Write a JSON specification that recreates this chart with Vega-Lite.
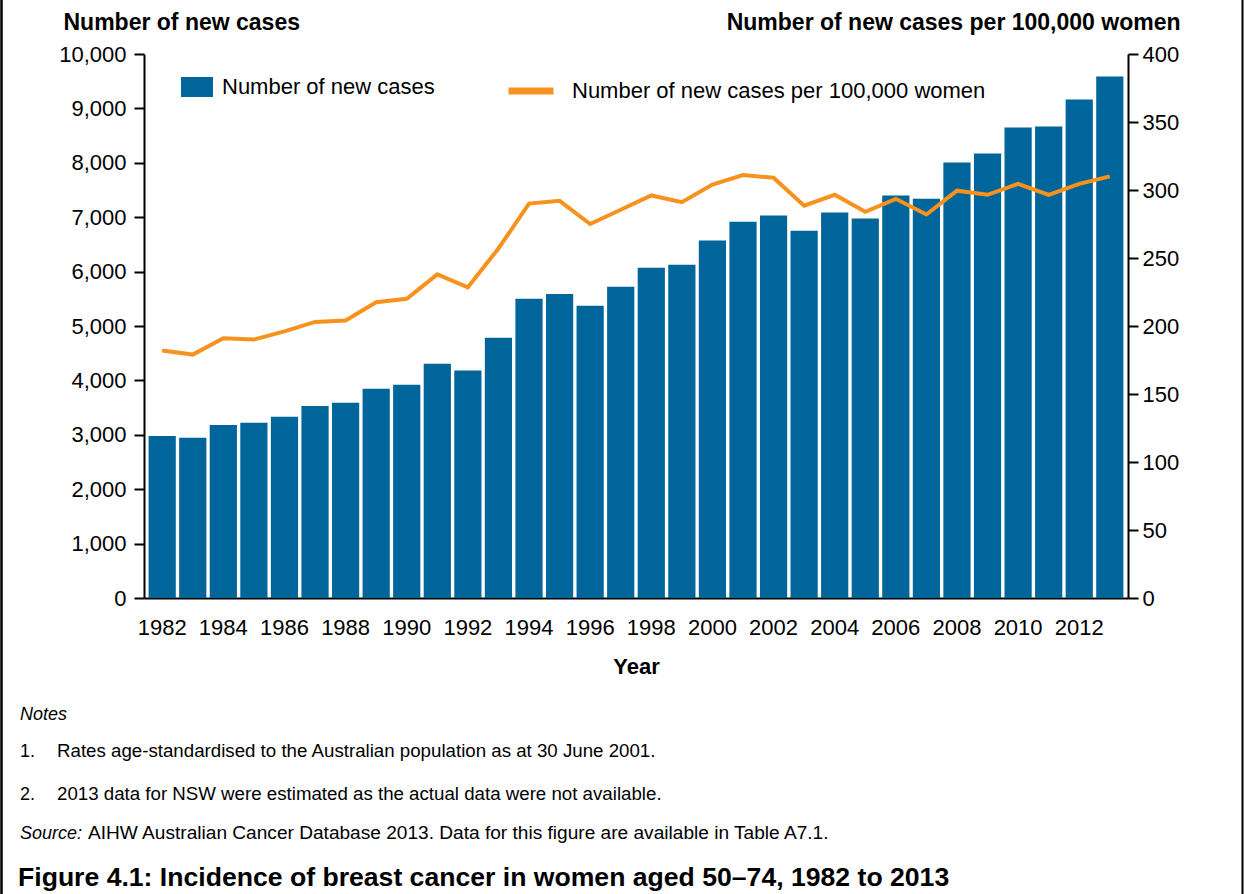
{
  "$schema": "https://vega.github.io/schema/vega-lite/v6.json",
  "autosize": "none",
  "width": 984,
  "height": 544,
  "padding": {"left": 144, "top": 54, "right": 116, "bottom": 296},
  "background": "white",
  "config": {
    "view": {"stroke": null},
    "font": "Liberation Sans",
    "axis": {
      "labelFont": "Liberation Sans",
      "labelFontSize": 22,
      "labelColor": "black",
      "titleFont": "Liberation Sans",
      "titleFontSize": 23,
      "titleFontWeight": "bold",
      "titleColor": "black",
      "domainColor": "black",
      "domainWidth": 2,
      "tickColor": "black",
      "tickWidth": 2,
      "grid": false
    },
    "legend": {
      "labelFont": "Liberation Sans",
      "labelFontSize": 22,
      "labelColor": "black",
      "labelLimit": 0,
      "padding": 0
    }
  },
  "data": {
    "values": [
      {"year": 1982, "cases": 2980, "rate": 182},
      {"year": 1983, "cases": 2945, "rate": 179},
      {"year": 1984, "cases": 3180, "rate": 191},
      {"year": 1985, "cases": 3220, "rate": 190},
      {"year": 1986, "cases": 3330, "rate": 196},
      {"year": 1987, "cases": 3530, "rate": 203},
      {"year": 1988, "cases": 3590, "rate": 204},
      {"year": 1989, "cases": 3845, "rate": 217.5},
      {"year": 1990, "cases": 3920, "rate": 220},
      {"year": 1991, "cases": 4305, "rate": 238},
      {"year": 1992, "cases": 4180, "rate": 228.5},
      {"year": 1993, "cases": 4785, "rate": 257},
      {"year": 1994, "cases": 5500, "rate": 290},
      {"year": 1995, "cases": 5590, "rate": 292},
      {"year": 1996, "cases": 5370, "rate": 275},
      {"year": 1997, "cases": 5720, "rate": 285.5},
      {"year": 1998, "cases": 6070, "rate": 296},
      {"year": 1999, "cases": 6125, "rate": 291},
      {"year": 2000, "cases": 6570, "rate": 304},
      {"year": 2001, "cases": 6915, "rate": 311},
      {"year": 2002, "cases": 7030, "rate": 309},
      {"year": 2003, "cases": 6750, "rate": 288.5},
      {"year": 2004, "cases": 7085, "rate": 296.5},
      {"year": 2005, "cases": 6975, "rate": 284},
      {"year": 2006, "cases": 7400, "rate": 293.5},
      {"year": 2007, "cases": 7340, "rate": 282},
      {"year": 2008, "cases": 8005, "rate": 299.5},
      {"year": 2009, "cases": 8170, "rate": 296.5},
      {"year": 2010, "cases": 8650, "rate": 304.5},
      {"year": 2011, "cases": 8665, "rate": 296.5},
      {"year": 2012, "cases": 9165, "rate": 304.5},
      {"year": 2013, "cases": 9585, "rate": 310}
    ]
  },
  "layer": [
    {
      "mark": {"type": "bar"},
      "encoding": {
        "x": {
          "field": "year", "type": "ordinal",
          "scale": {"paddingInner": 0.11, "paddingOuter": 0.15},
          "axis": {
            "title": "Year",
            "labelAngle": 0,
            "values": [1982,1984,1986,1988,1990,1992,1994,1996,1998,2000,2002,2004,2006,2008,2010,2012],
            "ticks": false,
            "tickSize": 0,
            "labelPadding": 19,
            "titleFontSize": 22,
            "titleBaseline": "alphabetic",
            "titleY": 75
          }
        },
        "y": {
          "field": "cases", "type": "quantitative",
          "scale": {"domain": [0, 10000], "nice": false},
          "axis": {
            "orient": "left",
            "values": [0,1000,2000,3000,4000,5000,6000,7000,8000,9000,10000],
            "format": ",.0f",
            "tickSize": 10,
            "labelPadding": 8,
            "title": "Number of new cases",
            "titleAngle": 0,
            "titleAlign": "left",
            "titleBaseline": "alphabetic",
            "titleX": -81,
            "titleY": -25
          }
        },
        "color": {
          "datum": "Number of new cases",
          "scale": {"range": ["#00659A"]},
          "legend": {
            "orient": "none",
            "legendX": 37,
            "legendY": 17,
            "title": null,
            "symbolType": "M-1,-0.625H1V0.625H-1Z",
            "symbolSize": 1024,
            "symbolStrokeWidth": 0,
            "labelOffset": 9
          }
        }
      }
    },
    {
      "mark": {"type": "line", "strokeWidth": 4},
      "encoding": {
        "x": {"field": "year", "type": "ordinal"},
        "y": {
          "field": "rate", "type": "quantitative",
          "scale": {"domain": [0, 400], "nice": false},
          "axis": {
            "orient": "right",
            "values": [0,50,100,150,200,250,300,350,400],
            "tickSize": 10,
            "labelPadding": 4,
            "title": "Number of new cases per 100,000 women",
            "titleAngle": 0,
            "titleAlign": "right",
            "titleBaseline": "alphabetic",
            "titleX": 52,
            "titleY": -25
          }
        },
        "stroke": {
          "datum": "Number of new cases per 100,000 women",
          "scale": {"range": ["#F7921E"]},
          "legend": {
            "orient": "none",
            "legendX": 361,
            "legendY": 11,
            "title": null,
            "symbolType": "stroke",
            "symbolSize": 2025,
            "symbolStrokeWidth": 7,
            "labelOffset": 15
          }
        }
      }
    },
    {
      "data": {"values": [{}]},
      "mark": {"type": "text", "text": "Notes", "x": -124, "y": 666, "align": "left", "baseline": "alphabetic", "font": "Liberation Sans", "fontSize": 18, "fontStyle": "italic", "color": "black"},
      "encoding": {}
    },
    {
      "data": {"values": [{}]},
      "mark": {"type": "text", "text": "1.", "x": -124, "y": 703, "align": "left", "baseline": "alphabetic", "font": "Liberation Sans", "fontSize": 18, "color": "black"},
      "encoding": {}
    },
    {
      "data": {"values": [{}]},
      "mark": {"type": "text", "text": "Rates age-standardised to the Australian population as at 30 June 2001.", "x": -87, "y": 703, "align": "left", "baseline": "alphabetic", "font": "Liberation Sans", "fontSize": 18.7, "color": "black"},
      "encoding": {}
    },
    {
      "data": {"values": [{}]},
      "mark": {"type": "text", "text": "2.", "x": -124, "y": 746, "align": "left", "baseline": "alphabetic", "font": "Liberation Sans", "fontSize": 18, "color": "black"},
      "encoding": {}
    },
    {
      "data": {"values": [{}]},
      "mark": {"type": "text", "text": "2013 data for NSW were estimated as the actual data were not available.", "x": -87, "y": 746, "align": "left", "baseline": "alphabetic", "font": "Liberation Sans", "fontSize": 18.7, "color": "black"},
      "encoding": {}
    },
    {
      "data": {"values": [{}]},
      "mark": {"type": "text", "text": "Source:", "x": -124, "y": 785, "align": "left", "baseline": "alphabetic", "font": "Liberation Sans", "fontSize": 18, "fontStyle": "italic", "color": "black"},
      "encoding": {}
    },
    {
      "data": {"values": [{}]},
      "mark": {"type": "text", "text": "AIHW Australian Cancer Database 2013. Data for this figure are available in Table A7.1.", "x": -56, "y": 785, "align": "left", "baseline": "alphabetic", "font": "Liberation Sans", "fontSize": 19.1, "color": "black"},
      "encoding": {}
    },
    {
      "data": {"values": [{}]},
      "mark": {"type": "text", "text": "Figure 4.1: Incidence of breast cancer in women aged 50–74, 1982 to 2013", "x": -126, "y": 832, "align": "left", "baseline": "alphabetic", "font": "Liberation Sans", "fontSize": 26.6, "fontWeight": "bold", "color": "black"},
      "encoding": {}
    },
    {
      "data": {"values": [{}]},
      "mark": {"type": "rule", "color": "black", "strokeWidth": 2.5},
      "encoding": {"x": {"value": -142.5}, "y": {"value": -54}, "y2": {"value": 840}}
    },
    {
      "data": {"values": [{}]},
      "mark": {"type": "rule", "color": "black", "strokeWidth": 2},
      "encoding": {"x": {"value": 1098.5}, "y": {"value": -54}, "y2": {"value": 840}}
    }
  ],
  "resolve": {"scale": {"y": "independent"}}
}
